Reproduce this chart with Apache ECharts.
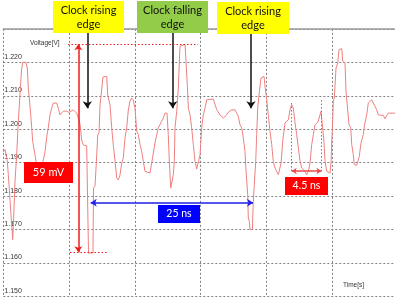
<!DOCTYPE html>
<html><head><meta charset="utf-8">
<script src="https://cdn.jsdelivr.net/npm/echarts@6/dist/echarts.min.js"></script>
<style>html,body{margin:0;padding:0;background:#fff}#c{width:395px;height:297px}</style>
</head><body><div id="c"></div>
<script>
// time in ns, voltage in V
const timeNs = [0,0.26,0.52,0.61,0.76,0.87,1.17,1.43,1.52,1.63,
1.78,2.04,2.28,2.54,2.77,2.95,3.45,3.65,3.80,3.95,
4.17,4.32,4.47,4.67,4.82,4.97,5.35,5.73,6.04,6.34,
6.65,6.84,7.10,7.36,7.60,8.12,8.37,8.62,8.88,9.13,
9.64,9.99,10.65,11.16,11.41,11.67,11.92,12.17,12.68,12.88,
12.96,13.64,13.72,13.95,14.21,14.36,14.56,14.71,15.01,15.16,
15.73,15.88,16.23,16.49,16.73,16.99,17.25,17.49,17.75,18.01,
18.25,18.51,18.77,19.01,19.27,19.53,19.77,20.03,20.29,20.53,
20.79,21.05,21.29,21.55,21.81,22.31,22.57,22.81,23.07,23.57,
23.83,24.09,24.33,24.59,24.90,25.09,25.25,25.46,25.70,25.86,
26.01,26.11,26.37,26.62,26.87,27.13,27.64,27.79,27.98,28.14,
28.40,28.65,28.90,29.16,29.41,29.66,29.92,30.17,30.42,30.68,
30.94,31.18,31.94,32.20,32.46,32.70,32.96,33.46,33.72,33.98,
34.22,34.74,35.24,35.50,35.74,36.00,36.26,36.50,36.76,36.87,
37.02,37.17,37.26,37.41,37.52,37.87,38.02,38.17,38.39,38.54,
38.69,38.89,39.19,39.30,39.65,39.80,40.06,40.30,40.56,40.82,
41.06,41.32,41.58,41.83,42.08,42.24,42.49,42.84,43.35,43.60,
43.86,44.11,44.37,44.62,44.87,45.13,45.38,45.89,46.14,46.39,
46.65,46.90,47.15,47.41,47.86,48.17,48.32,48.52,48.78,48.93,
49.19,49.34,49.69,49.85,49.95,50.04,50.19,50.34,50.60,50.86,
51.06,51.47,51.62,51.97,52.12,52.38,52.58,52.84,52.99,53.23,
53.38,53.75,53.99,54.14,54.40,54.75,54.90,55.27,55.51,56.03,
56.27,56.53,56.79,57.03,57.29,57.79,58.05,58.31,58.56,59.57];
const voltage = [1.1932,1.1939,1.1934,1.1904,1.1864,1.1834,1.1744,1.1670,1.1705,1.1764,
1.1845,1.1924,1.2024,1.2103,1.2177,1.2200,1.2200,1.2183,1.2123,1.2093,
1.2043,1.2004,1.1964,1.1959,1.1924,1.1904,1.1884,1.1884,1.1904,1.1932,
1.1983,1.2004,1.2043,1.2063,1.2078,1.2078,1.2063,1.2043,1.2048,1.2054,
1.2054,1.2050,1.2058,1.2048,1.2033,1.2016,1.1968,1.1953,1.1950,1.1947,
1.1630,1.1630,1.1824,1.1830,1.1923,1.1983,1.1989,1.2072,1.2075,1.2156,
1.2158,1.2102,1.2072,1.2004,1.1953,1.1905,1.1854,1.1848,1.1863,1.1899,
1.1914,1.1974,1.2004,1.2057,1.2084,1.2093,1.2087,1.2063,1.1994,1.1984,
1.1954,1.1934,1.1904,1.1874,1.1869,1.1869,1.1899,1.1899,1.1959,1.2004,
1.2004,1.2024,1.2033,1.2048,1.2048,1.1984,1.1904,1.1824,1.1819,1.1864,
1.1904,1.2004,1.2053,1.2123,1.2248,1.2253,1.2253,1.2203,1.2133,1.2063,
1.2043,1.2004,1.1954,1.1904,1.1881,1.1884,1.1923,1.2004,1.2043,1.2063,
1.2088,1.2090,1.2090,1.2087,1.2058,1.2053,1.2043,1.2033,1.2038,1.2043,
1.2051,1.2058,1.2058,1.2048,1.2038,1.2013,1.2004,1.1974,1.1934,1.1889,
1.1884,1.1804,1.1735,1.1725,1.1700,1.1700,1.1784,1.1834,1.1904,1.1984,
1.2063,1.2103,1.2153,1.2158,1.2158,1.2128,1.2088,1.2043,1.1994,1.1954,
1.1904,1.1884,1.1874,1.1864,1.1864,1.1899,1.1964,1.2019,1.2028,1.2058,
1.2073,1.2063,1.2019,1.1984,1.1944,1.1904,1.1884,1.1874,1.1864,1.1874,
1.1899,1.1954,1.1984,1.2013,1.2022,1.2043,1.2053,1.2013,1.1959,1.1904,
1.1874,1.1869,1.1869,1.1904,1.1964,1.1998,1.2083,1.2093,1.2183,1.2198,
1.2238,1.2241,1.2203,1.2198,1.2113,1.2108,1.2013,1.2004,1.1954,1.1924,
1.1894,1.1892,1.1894,1.1919,1.1959,1.1984,1.2009,1.2043,1.2078,1.2088,
1.2083,1.2068,1.2058,1.2043,1.2041,1.2041,1.2031,1.2041,1.2048,1.2048];

const yMin = 1.15, yMax = 1.23, yStep = 0.01;
const xMin = 0, xMax = 59.57, xStep = 10;

// annotations (data coordinates)
const clockEdgeTimes = [12.78, 25.76, 37.67];
const clockArrowFrom = 1.2288, clockArrowTo = 1.2063;
const clockLabels = ['Clock rising\nedge', 'Clock falling\nedge', 'Clock rising\nedge'];
const swingTime = 11.41, swingTop = 1.2254, swingBottom = 1.1632;
const swingTopLine = [9.84, 29.61], swingBottomLine = [10.14, 15.92];
const periodV = 1.1780, periodFrom = 13.29, periodTo = 37.98;
const ringV = 1.1875, ringFrom = 43.86, ringTo = 48.38;
const ringPeakV = [1.2078, 1.2087];

const seriesData = timeNs.map((t, i) => [t, voltage[i]]);

const RED = '#ee1c1c', BLUE = '#1f1fe8';
function seg(a, b, color, opts) {
  opts = opts || {};
  const ls = { color: color, width: opts.width || 1.5, type: opts.type || 'solid' };
  return [
    { coord: a, symbol: opts.s0 || 'none', symbolSize: opts.size || 7, lineStyle: ls },
    { coord: b, symbol: opts.s1 || 'none', symbolSize: opts.size || 7, lineStyle: ls }
  ];
}
const marks = [];
clockEdgeTimes.forEach(t => marks.push(seg([t, clockArrowFrom], [t, clockArrowTo], '#111', { s1: 'arrow', size: 7 })));
marks.push(seg([swingTopLine[0], swingTop], [swingTopLine[1], swingTop], RED, { type: [1.5, 2], width: 1 }));
marks.push(seg([swingBottomLine[0], swingBottom], [swingBottomLine[1], swingBottom], RED, { type: [1.5, 2], width: 1 }));
marks.push(seg([swingTime, swingTop], [swingTime, swingBottom], RED, { s0: 'arrow', s1: 'arrow', size: 6 }));
marks.push(seg([periodFrom, periodV], [periodTo, periodV], BLUE, { s0: 'arrow', s1: 'arrow', size: 6 }));
marks.push(seg([ringFrom, ringPeakV[0]], [ringFrom, ringV], '#e84a4a', { type: [1.5, 2], width: 1 }));
marks.push(seg([ringTo, ringPeakV[1]], [ringTo, ringV], '#e84a4a', { type: [1.5, 2], width: 1 }));
marks.push(seg([ringFrom, ringV], [ringTo, ringV], '#e84a4a', { s0: 'arrow', s1: 'arrow', size: 5 }));

function box(x, y, w, h, fill, text, color, size) {
  return [
    { type: 'rect', z: 100, shape: { x: x, y: y, width: w, height: h }, style: { fill: fill } },
    { type: 'text', z: 101, x: x + w / 2, y: y + h / 2,
      style: { text: text, fill: color, font: size + 'px Lato, "Noto Sans", sans-serif',
               align: 'center', verticalAlign: 'middle', lineHeight: 14 } }
  ];
}
const graphics = [].concat(
  box(53, 1, 71, 32, '#ffff00', clockLabels[0], '#111', 11),
  box(137, 1, 71, 32, '#92cc48', clockLabels[1], '#111', 11),
  box(217, 2, 72, 32, '#ffff00', clockLabels[2], '#111', 11),
  box(24, 162, 49, 21, '#ff0000', '59 mV', '#fff', 11),
  box(158, 205, 42, 18, '#0000ff', '25 ns', '#fff', 10.5),
  box(285, 177, 43, 18, '#ff0000', '4.5 ns', '#fff', 10.5),
  [
    { type: 'text', z: 50, x: 30, y: 43, style: { text: 'Voltage[V]', fill: '#333', font: '6.5px "Liberation Sans", sans-serif', verticalAlign: 'middle' } },
    { type: 'text', z: 50, x: 343, y: 285, style: { text: 'Time[s]', fill: '#333', font: '6.5px "Liberation Sans", sans-serif', verticalAlign: 'middle' } }
  ]
);

const chart = echarts.init(document.getElementById('c'), null, { renderer: 'canvas' });
chart.setOption({
  animation: false,
  backgroundColor: '#fff',
  grid: { left: 3.3, right: 0, top: 28.85, height: 267.6, containLabel: false },
  xAxis: {
    type: 'value', position: 'top', min: xMin, max: xMax, interval: xStep,
    axisLine: { show: true, lineStyle: { color: '#9a9a9a', width: 1.5 } },
    axisTick: { show: false }, axisLabel: { show: false },
    splitLine: { show: true, lineStyle: { color: '#808080', width: 1, type: [2, 2] } }
  },
  yAxis: {
    type: 'value', min: yMin, max: yMax, interval: yStep,
    axisLine: { show: false }, axisTick: { show: false },
    axisLabel: { inside: true, margin: 1, showMaxLabel: false, color: '#333', fontSize: 7,
      fontFamily: '"Liberation Sans", sans-serif', verticalAlign: 'bottom', padding: [0, 0, 2, 0],
      formatter: v => v.toFixed(3) },
    splitLine: { show: true, lineStyle: { color: '#808080', width: 1, type: [2, 2] } }
  },
  series: [{
    type: 'line', data: seriesData, showSymbol: false, symbol: 'none',
    lineStyle: { color: '#ef8080', width: 1 },
    markLine: { silent: true, animation: false, label: { show: false }, data: marks }
  }],
  graphic: graphics
});
</script>
</body></html>
